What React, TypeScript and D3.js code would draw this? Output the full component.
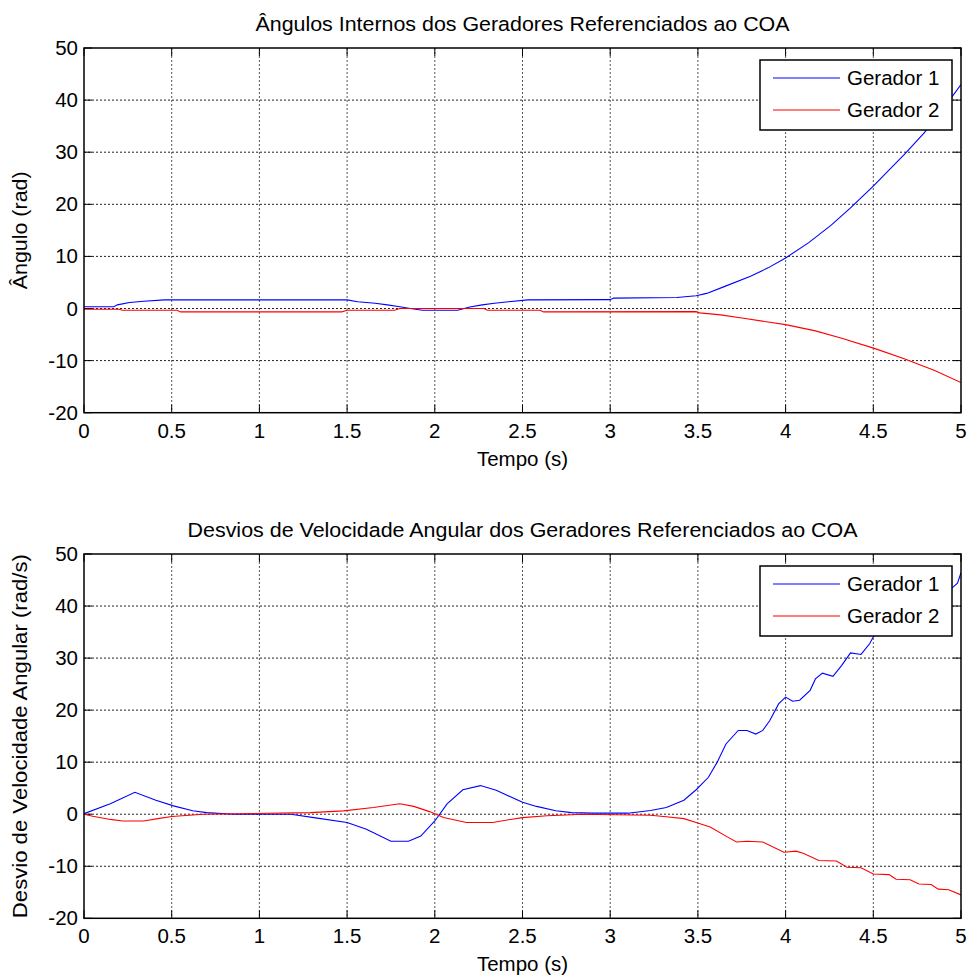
import React from "react";
import * as d3 from "d3";

// ---------- data ----------
const xTicks = [0, 0.5, 1, 1.5, 2, 2.5, 3, 3.5, 4, 4.5, 5];
const xTickLabels = ["0", "0.5", "1", "1.5", "2", "2.5", "3", "3.5", "4", "4.5", "5"];
const yTicks = [-20, -10, 0, 10, 20, 30, 40, 50];
const seriesNames = ["Gerador 1", "Gerador 2"];

// Top: internal angles (rad)
const angT1 = [0, 0.17, 0.19, 0.26, 0.34, 0.46, 1.5, 1.56, 1.66, 1.73, 1.8, 1.86, 1.93, 2.13, 2.2, 2.27, 2.34, 2.42, 2.53, 3.0, 3.02, 3.38, 3.49, 3.55, 3.65, 3.8, 3.9, 4.0, 4.13, 4.26, 4.37, 4.5, 4.68, 4.79, 4.88, 5.0];
const angG1 = [0.35, 0.35, 0.7, 1.15, 1.4, 1.65, 1.65, 1.3, 1.0, 0.7, 0.35, 0, -0.35, -0.35, 0.3, 0.7, 1.0, 1.3, 1.65, 1.7, 2.0, 2.1, 2.45, 2.9, 4.2, 6.2, 7.8, 9.7, 12.6, 16.0, 19.3, 23.5, 29.7, 33.7, 37.5, 43.0];
const angT2 = [0, 0.2, 0.22, 0.53, 0.55, 1.47, 1.5, 1.77, 1.8, 2.28, 2.3, 2.6, 2.62, 3.49, 3.51, 3.63, 3.76, 3.89, 4.0, 4.17, 4.32, 4.51, 4.68, 4.85, 5.0];
const angG2 = [-0.15, -0.15, -0.35, -0.35, -0.65, -0.65, -0.35, -0.35, 0, 0, -0.35, -0.35, -0.65, -0.6, -0.84, -1.23, -1.88, -2.53, -3.1, -4.3, -5.7, -7.7, -9.7, -11.9, -14.2];

// Bottom: angular speed deviations (rad/s)
const velT1 = [0, 0.15, 0.29, 0.41, 0.51, 0.62, 0.7, 0.85, 1.18, 1.32, 1.5, 1.61, 1.75, 1.85, 1.92, 2.0, 2.07, 2.16, 2.26, 2.35, 2.5, 2.58, 2.69, 2.78, 2.9, 3.1, 3.23, 3.32, 3.42, 3.49, 3.56, 3.61, 3.66, 3.73, 3.78, 3.83, 3.87, 3.91, 3.96, 4.0, 4.04, 4.08, 4.14, 4.17, 4.21, 4.27, 4.32, 4.37, 4.43, 4.48, 4.5, 4.55, 4.6, 4.65, 4.7, 4.75, 4.8, 4.85, 4.9, 4.95, 4.98, 5.0];
const velG1 = [0.1, 2, 4.2, 2.7, 1.6, 0.65, 0.3, 0, 0, -0.7, -1.6, -2.9, -5.2, -5.2, -4.2, -1.3, 2, 4.7, 5.5, 4.6, 2.3, 1.5, 0.65, 0.3, 0.2, 0.2, 0.7, 1.3, 2.7, 4.7, 7.1, 10, 13.5, 16.1, 16.1, 15.4, 16.1, 18, 21.2, 22.5, 21.7, 21.9, 23.8, 26, 27.1, 26.5, 28.6, 31, 30.7, 32.8, 34.1, 35.5, 36.8, 36.5, 38, 40.2, 40.5, 41, 43.2, 43.5, 44.4, 46.4];
const velT2 = [0, 0.05, 0.15, 0.22, 0.34, 0.43, 0.5, 0.68, 1.29, 1.48, 1.65, 1.8, 1.88, 1.97, 2.05, 2.18, 2.33, 2.43, 2.5, 2.64, 2.75, 2.83, 3.23, 3.32, 3.42, 3.49, 3.57, 3.67, 3.72, 3.78, 3.87, 3.99, 4.06, 4.1, 4.19, 4.29, 4.35, 4.43, 4.5, 4.59, 4.63, 4.71, 4.76, 4.83, 4.87, 4.93, 5.0];
const velG2 = [0, -0.4, -1, -1.3, -1.3, -0.8, -0.45, 0, 0.3, 0.65, 1.3, 2, 1.5, 0.5, -0.65, -1.6, -1.6, -1, -0.65, -0.3, -0.15, 0, -0.2, -0.5, -0.85, -1.6, -2.45, -4.4, -5.35, -5.2, -5.35, -7.3, -7.1, -7.5, -8.9, -9, -10.2, -10.3, -11.5, -11.6, -12.5, -12.6, -13.4, -13.5, -14.4, -14.5, -15.5];

const colors = ["#0000ff", "#ff0000"];
const FONT = "Arial, 'Liberation Sans', Helvetica, sans-serif";

type PanelProps = {
  id: string;
  top: number;
  bottom: number;
  title: string;
  titleLen: number;
  ylabel: string;
  ylabelLen: number;
  t1: number[];
  v1: number[];
  t2: number[];
  v2: number[];
};

const LEFT = 84;
const RIGHT = 961;

function Panel({ id, top, bottom, title, titleLen, ylabel, ylabelLen, t1, v1, t2, v2 }: PanelProps) {
  const x = d3.scaleLinear().domain([0, 5]).range([LEFT, RIGHT]);
  const y = d3.scaleLinear().domain([-20, 50]).range([bottom, top]);
  const line = d3
    .line<[number, number]>()
    .x((d) => x(d[0]))
    .y((d) => y(d[1]));
  const d1 = line(t1.map((t, i) => [t, v1[i]] as [number, number])) || "";
  const d2 = line(t2.map((t, i) => [t, v2[i]] as [number, number])) || "";
  const tick = 8;
  const lgTop = top + 12;
  const lgL = 760;
  const lgR = 952;
  return (
    <g>
      <defs>
        <clipPath id={id}>
          <rect x={LEFT} y={top} width={RIGHT - LEFT} height={bottom - top} />
        </clipPath>
      </defs>
      <rect x={LEFT} y={top} width={RIGHT - LEFT} height={bottom - top} fill="#fff" />
      {/* grid */}
      {xTicks.slice(1, -1).map((t) => (
        <line key={"gx" + t} x1={x(t)} x2={x(t)} y1={top} y2={bottom} stroke="#555" strokeWidth={1} strokeDasharray="2,2" />
      ))}
      {yTicks.slice(1, -1).map((v) => (
        <line key={"gy" + v} x1={LEFT} x2={RIGHT} y1={y(v)} y2={y(v)} stroke="#222" strokeWidth={1} strokeDasharray="2,2" />
      ))}
      {/* ticks */}
      {xTicks.map((t) => (
        <g key={"tx" + t}>
          <line x1={x(t)} x2={x(t)} y1={bottom} y2={bottom - tick} stroke="#000" />
          <line x1={x(t)} x2={x(t)} y1={top} y2={top + tick} stroke="#000" />
        </g>
      ))}
      {yTicks.map((v) => (
        <g key={"ty" + v}>
          <line x1={LEFT} x2={LEFT + tick} y1={y(v)} y2={y(v)} stroke="#000" />
          <line x1={RIGHT} x2={RIGHT - tick} y1={y(v)} y2={y(v)} stroke="#000" />
        </g>
      ))}
      {/* curves */}
      <g clipPath={`url(#${id})`}>
        <path d={d1} fill="none" stroke={colors[0]} strokeWidth={1.1} />
        <path d={d2} fill="none" stroke={colors[1]} strokeWidth={1.1} />
      </g>
      {/* box */}
      <rect x={LEFT} y={top} width={RIGHT - LEFT} height={bottom - top} fill="none" stroke="#000" strokeWidth={1.5} />
      {/* tick labels */}
      {xTicks.map((t, i) => (
        <text key={"lx" + t} x={x(t)} y={bottom + 25} textAnchor="middle" fontSize={20.5} fontFamily={FONT} fill="#000">
          {xTickLabels[i]}
        </text>
      ))}
      {yTicks.map((v) => (
        <text key={"ly" + v} x={LEFT - 6} y={y(v) + 7} textAnchor="end" fontSize={20.5} fontFamily={FONT} fill="#000">
          {String(v)}
        </text>
      ))}
      <text
        x={(LEFT + RIGHT) / 2}
        y={top - 17}
        textAnchor="middle"
        fontSize={20.5}
        fontFamily={FONT}
        fill="#000"
        textLength={titleLen}
        lengthAdjust="spacingAndGlyphs"
      >
        {title}
      </text>
      <text x={(LEFT + RIGHT) / 2} y={bottom + 53} textAnchor="middle" fontSize={20.5} fontFamily={FONT} fill="#000">
        Tempo (s)
      </text>
      <text
        transform={`translate(27,${(top + bottom) / 2}) rotate(-90)`}
        textAnchor="middle"
        fontSize={20.5}
        fontFamily={FONT}
        fill="#000"
        textLength={ylabelLen}
        lengthAdjust="spacingAndGlyphs"
      >
        {ylabel}
      </text>
      {/* legend */}
      <rect x={lgL} y={lgTop} width={lgR - lgL} height={70} fill="#fff" stroke="#000" strokeWidth={1.5} />
      {seriesNames.map((n, i) => (
        <g key={n}>
          <line x1={773} x2={840} y1={lgTop + 18 + i * 32} y2={lgTop + 18 + i * 32} stroke={colors[i]} strokeWidth={1.1} />
          <text x={847} y={lgTop + 25 + i * 32} fontSize={20.5} fontFamily={FONT} fill="#000">
            {n}
          </text>
        </g>
      ))}
    </g>
  );
}

export default function App() {
  return (
    <div style={{ position: "absolute", left: 0, top: 0 }}>
      <svg width={970} height={976} style={{ display: "block", background: "#fff" }}>
        <rect width={970} height={976} fill="#fff" />
        <Panel
          id="clipTop"
          top={48}
          bottom={412.7}
          title="Ângulos Internos dos Geradores Referenciados ao COA"
          titleLen={534}
          ylabel="Ângulo (rad)"
          ylabelLen={118}
          t1={angT1}
          v1={angG1}
          t2={angT2}
          v2={angG2}
        />
        <Panel
          id="clipBottom"
          top={554}
          bottom={918.3}
          title="Desvios de Velocidade Angular dos Geradores Referenciados ao COA"
          titleLen={670}
          ylabel="Desvio de Velocidade Angular (rad/s)"
          ylabelLen={364}
          t1={velT1}
          v1={velG1}
          t2={velT2}
          v2={velG2}
        />
      </svg>
    </div>
  );
}
